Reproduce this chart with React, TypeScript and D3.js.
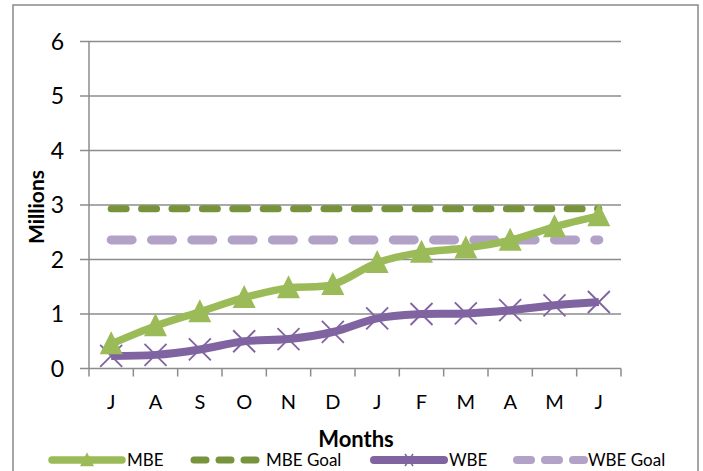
import React from "react";
import * as d3 from "d3";

const months = ["J", "A", "S", "O", "N", "D", "J", "F", "M", "A", "M", "J"];
const mbe = [0.45, 0.78, 1.04, 1.3, 1.48, 1.54, 1.94, 2.13, 2.21, 2.35, 2.6, 2.8];
const mbeGoal = [2.93, 2.93, 2.93, 2.93, 2.93, 2.93, 2.93, 2.93, 2.93, 2.93, 2.93, 2.93];
const wbe = [0.23, 0.25, 0.35, 0.5, 0.54, 0.67, 0.92, 1.0, 1.01, 1.07, 1.16, 1.22];
const wbeGoal = [2.36, 2.36, 2.36, 2.36, 2.36, 2.36, 2.36, 2.36, 2.36, 2.36, 2.36, 2.36];
const yTicks = [0, 1, 2, 3, 4, 5, 6];
const legendItems = ["MBE", "MBE Goal", "WBE", "WBE Goal"];

const W = 703, H = 471;
const FONT = "Lato, 'Open Sans', sans-serif";
const C_MBE = "#9BBB59", C_MBEG = "#77933C", C_WBE = "#8064A2", C_WBEG = "#B3A2C7";
const GRID = "#8c8c8c";

export default function App() {
  const idx = months.map((_, i) => i);
  const x = d3.scaleBand<number>().domain(idx).range([89, 621]);
  const y = d3.scaleLinear().domain([0, 6]).range([368.5, 41.5]);
  const cx = (i: number) => (x(i) as number) + x.bandwidth() / 2;

  const smooth = d3.line<number>().x((_, i) => cx(i)).y((d) => y(d)).curve(d3.curveCatmullRom.alpha(0.5));
  const straight = d3.line<number>().x((_, i) => cx(i)).y((d) => y(d));

  const tri = (px: number, py: number, s: number) =>
    `M${px},${py - s * 0.55}L${px + s / 2},${py + s * 0.45}L${px - s / 2},${py + s * 0.45}Z`;

  const legendX = [52, 191, 374, 513];
  const legendColors = [C_MBE, C_MBEG, C_WBE, C_WBEG];
  const ly = 460;

  return (
    <svg width={W} height={H} style={{ position: "absolute", left: 0, top: 0, background: "#fff" }}>
      <rect x={13} y={5} width={685} height={480} fill="#fff" stroke="#898989" strokeWidth={1.5} />
      {yTicks.map((t) => (
        <g key={t}>
          <line x1={80} x2={621} y1={y(t)} y2={y(t)} stroke={GRID} strokeWidth={1.5} />
          <text x={64} y={y(t)} dy="0.36em" textAnchor="end" fontFamily={FONT} fontSize={23} fill="#000">
            {t}
          </text>
        </g>
      ))}
      <line x1={89} x2={89} y1={y(6)} y2={y(0) + 8} stroke={GRID} strokeWidth={1.5} />
      {idx.map((i) => (
        <line key={"t" + i} x1={(x(i) as number) + x.bandwidth()} x2={(x(i) as number) + x.bandwidth()} y1={y(0)} y2={y(0) + 8} stroke={GRID} strokeWidth={1.5} />
      ))}
      {months.map((m, i) => (
        <text key={"m" + i} x={cx(i)} y={402} dy="0.36em" textAnchor="middle" fontFamily={FONT} fontSize={20} fill="#000">
          {m}
        </text>
      ))}
      <text transform="translate(36,207) rotate(-90)" textAnchor="middle" dy="0.36em" fontFamily={FONT} fontSize={21} fontWeight="bold" fill="#000">
        Millions
      </text>
      <text x={356} y={439} dy="0.36em" textAnchor="middle" fontFamily={FONT} fontSize={22} fontWeight="bold" fill="#000">
        Months
      </text>

      <path d={straight(mbeGoal) || ""} fill="none" stroke={C_MBEG} strokeWidth={7} strokeLinecap="round" strokeDasharray="15 15.4" />
      <path d={straight(wbeGoal) || ""} fill="none" stroke={C_WBEG} strokeWidth={9} strokeLinecap="round" strokeDasharray="21 19.3" />

      <path d={smooth(wbe) || ""} fill="none" stroke={C_WBE} strokeWidth={8} strokeLinejoin="round" />
      {wbe.map((v, i) => (
        <g key={"x" + i} stroke={C_WBE} strokeWidth={1.8}>
          <line x1={cx(i) - 11} x2={cx(i) + 11} y1={y(v) - 11} y2={y(v) + 11} />
          <line x1={cx(i) - 11} x2={cx(i) + 11} y1={y(v) + 11} y2={y(v) - 11} />
        </g>
      ))}

      <path d={smooth(mbe) || ""} fill="none" stroke={C_MBE} strokeWidth={7.5} strokeLinejoin="round" />
      {mbe.map((v, i) => (
        <path key={"tr" + i} d={tri(cx(i), y(v), 23)} fill={C_MBE} />
      ))}

      {legendItems.map((name, k) => {
        const x0 = legendX[k];
        const col = legendColors[k];
        return (
          <g key={name}>
            {k === 0 && (
              <>
                <line x1={x0} x2={x0 + 70} y1={ly} y2={ly} stroke={col} strokeWidth={7.5} strokeLinecap="round" />
                <path d={tri(x0 + 35, ly, 14)} fill={col} />
              </>
            )}
            {k === 1 && (
              <line x1={x0 + 3} x2={x0 + 72} y1={ly} y2={ly} stroke={col} strokeWidth={7} strokeLinecap="round" strokeDasharray="12 13" />
            )}
            {k === 2 && (
              <g>
                <line x1={x0} x2={x0 + 70} y1={ly} y2={ly} stroke={col} strokeWidth={8} strokeLinecap="round" />
                <line x1={x0 + 31} x2={x0 + 39} y1={ly - 6} y2={ly + 6} stroke={col} strokeWidth={1.5} />
                <line x1={x0 + 31} x2={x0 + 39} y1={ly + 6} y2={ly - 6} stroke={col} strokeWidth={1.5} />
              </g>
            )}
            {k === 3 && (
              <line x1={x0 + 4} x2={x0 + 71} y1={ly} y2={ly} stroke={col} strokeWidth={8} strokeLinecap="round" strokeDasharray="14 14" />
            )}
            <text x={x0 + 75} y={ly} dy="0.36em" fontFamily={FONT} fontSize={17} fill="#000">
              {name}
            </text>
          </g>
        );
      })}
    </svg>
  );
}
